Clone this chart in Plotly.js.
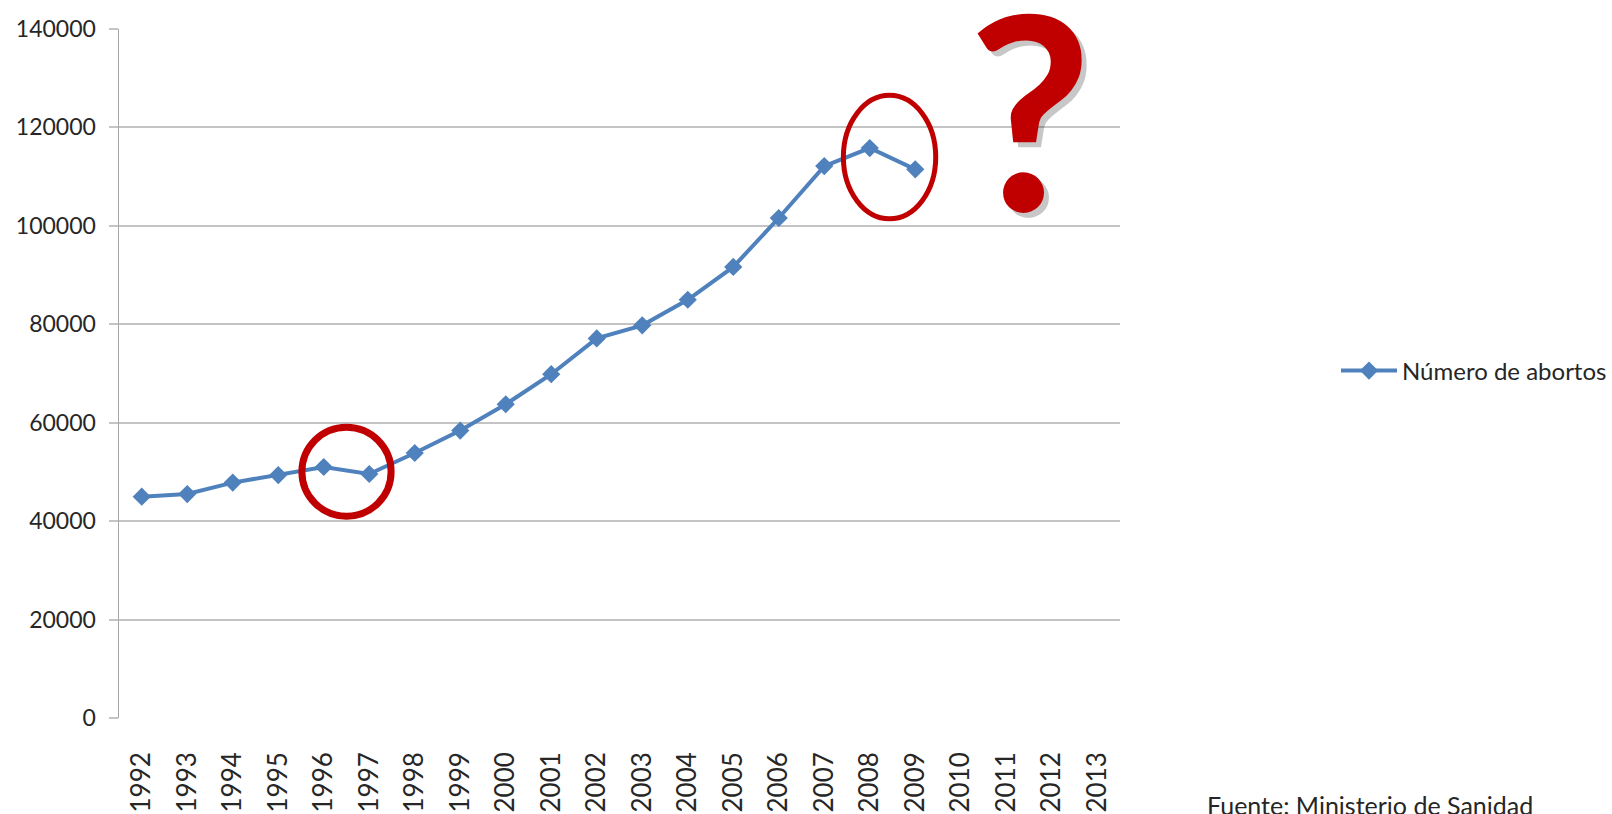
<!DOCTYPE html>
<html>
<head>
<meta charset="utf-8">
<script src="https://cdn.plot.ly/plotly-3.0.1.min.js"></script>
<style>html,body{margin:0;padding:0;background:#fff;}#chart{width:1612px;height:814px;}</style>
</head>
<body>
<div id="chart"></div>
<script>
const years = ['1992','1993','1994','1995','1996','1997','1998','1999','2000','2001','2002','2003','2004','2005','2006','2007','2008','2009','2010','2011','2012','2013'];
const abortos = [44962,45503,47832,49367,51002,49578,53847,58399,63756,69857,77125,79788,84985,91664,101592,112138,115812,111482,null,null,null,null];
const yTicks = [0,20000,40000,60000,80000,100000,120000,140000];
const seriesName = 'Número de abortos';
const sourceText = 'Fuente: Ministerio de Sanidad';

const W = 1612, H = 814;
const mL = 119, mR = 492, mT = 29, mB = 96;
const pw = W - mL - mR, ph = H - mT - mB;
const px = x => (x - mL) / pw;
const py = y => (H - mB - y) / ph;

const trace = {
  x: years, y: abortos, name: seriesName, type: 'scatter', mode: 'lines+markers',
  line: {color: '#4F81BD', width: 4},
  marker: {symbol: 'diamond', size: 14, color: '#4F81BD'},
  connectgaps: false
};

const font = 'Lato, "Open Sans", sans-serif';
const red = '#C00000';

const layout = {
  width: W, height: H,
  margin: {l: mL, r: mR, t: mT, b: mB, pad: 0, autoexpand: false},
  paper_bgcolor: '#fff', plot_bgcolor: '#fff',
  showlegend: true,
  legend: {x: px(1336), xanchor: 'left', y: py(371), yanchor: 'middle', itemwidth: 56,
           font: {family: font, size: 24, color: '#262626'}, bgcolor: 'rgba(0,0,0,0)'},
  xaxis: {type: 'category', range: [-0.5, years.length - 0.5], autorange: false,
          showgrid: false, zeroline: false, showline: false,
          tickangle: -90, ticks: '', ticklabelstandoff: 28,
          tickfont: {family: font, size: 26, color: '#262626'}, fixedrange: true},
  yaxis: {range: [0, 140000], tickvals: yTicks, ticktext: yTicks.map(String),
          showgrid: true, gridcolor: '#c4c4c4', gridwidth: 2, zeroline: false,
          showline: true, linecolor: '#a6a6a6', linewidth: 1.5,
          ticks: 'outside', ticklen: 9, tickcolor: '#c4c4c4', tickwidth: 2,
          ticklabelstandoff: 8,
          tickfont: {family: font, size: 23, color: '#262626'}, fixedrange: true},
  shapes: [
    {type: 'circle', xref: 'x', yref: 'y', x0: 3.52, x1: 5.48, y0: 41000, y1: 59100,
     line: {color: red, width: 7}},
    {type: 'circle', xref: 'x', yref: 'y', x0: 15.42, x1: 17.45, y0: 101440, y1: 126520,
     line: {color: red, width: 5}}
  ],
  annotations: [
    {xref: 'paper', yref: 'paper', x: px(1035), y: py(112), xanchor: 'center', yanchor: 'middle',
     text: '?', showarrow: false, font: {family: font, size: 270, weight: 'bold', color: 'rgba(0,0,0,0.22)'}},
    {xref: 'paper', yref: 'paper', x: px(1030), y: py(107), xanchor: 'center', yanchor: 'middle',
     text: '?', showarrow: false, font: {family: font, size: 270, weight: 'bold', color: red}},
    {xref: 'paper', yref: 'paper', x: px(1205), y: py(805), xanchor: 'left', yanchor: 'middle',
     text: sourceText, showarrow: false, font: {family: font, size: 25, color: '#262626'}}
  ]
};

Plotly.newPlot('chart', [trace], layout, {displayModeBar: false, staticPlot: true});
</script>
</body>
</html>
